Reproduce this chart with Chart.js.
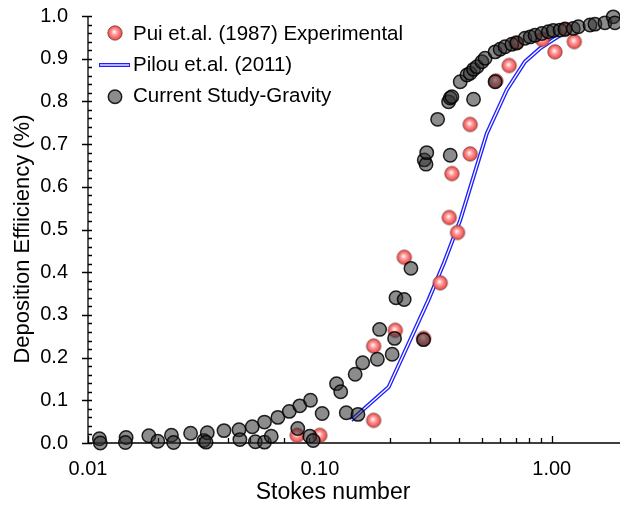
<!DOCTYPE html>
<html>
<head>
<meta charset="utf-8">
<script src="https://cdn.jsdelivr.net/npm/chart.js@4.4.0/dist/chart.umd.min.js"></script>
<style>
  html, body { margin: 0; padding: 0; background: #fff; }
</style>
</head>
<body>
<canvas id="chart" width="620" height="508"></canvas>
<script>
// Pui et.al. (1987) experimental points
const puiX = [0.0798, 0.0999, 0.1706, 0.1706, 0.2115, 0.2312, 0.2801, 0.3305, 0.3613, 0.3924,
              0.3711, 0.4449, 0.4449, 0.5741, 0.6551, 0.7020, 0.9111, 1.033, 1.141, 1.251];
const puiY = [0.018, 0.018, 0.053, 0.227, 0.264, 0.435, 0.245, 0.375, 0.528, 0.493,
              0.631, 0.677, 0.746, 0.848, 0.884, 0.937, 0.945, 0.916, 0.969, 0.940];

// Pilou et.al. (2011) curve
const pilouX = [0.1364, 0.198, 0.2934, 0.3439, 0.403, 0.525, 0.640, 0.767, 0.890, 1.086];
const pilouY = [0.053, 0.131, 0.334, 0.4235, 0.522, 0.725, 0.827, 0.893, 0.924, 0.955];

// Current study - gravity
const gravX = [0.0112, 0.0113, 0.0146, 0.0145, 0.0183, 0.0200, 0.0229, 0.0234, 0.0277, 0.0316,
               0.0327, 0.0323, 0.0386, 0.0448, 0.0452, 0.0511, 0.0527, 0.0577, 0.0577, 0.0617,
               0.0659, 0.0738, 0.0803, 0.0819, 0.0905, 0.0911, 0.0936, 0.1023, 0.118, 0.123,
               0.130, 0.146, 0.142, 0.153, 0.177, 0.181, 0.210, 0.205, 0.213, 0.231,
               0.247, 0.280, 0.282, 0.287, 0.289, 0.365, 0.322, 0.359, 0.365, 0.371,
               0.460, 0.403, 0.431, 0.445, 0.460, 0.476, 0.500, 0.516, 0.570, 0.570,
               0.599, 0.629, 0.673, 0.707, 0.767, 0.807, 0.847, 0.906, 0.967, 1.016,
               1.086, 1.141, 1.239, 1.302, 1.462, 1.536, 1.696, 1.842, 1.873];
const gravY = [0.010, 0.000, 0.013, 0.001, 0.017, 0.004, 0.018, 0.001, 0.023, 0.006,
               0.024, 0.002, 0.029, 0.031, 0.008, 0.038, 0.003, 0.049, 0.002, 0.016,
               0.060, 0.074, 0.034, 0.087, 0.016, 0.100, 0.006, 0.069, 0.139, 0.120,
               0.071, 0.067, 0.161, 0.188, 0.196, 0.266, 0.245, 0.208, 0.340, 0.336,
               0.409, 0.242, 0.663, 0.653, 0.680, 0.674, 0.758, 0.799, 0.808, 0.811,
               0.805, 0.846, 0.862, 0.866, 0.875, 0.881, 0.893, 0.901, 0.846, 0.916,
               0.922, 0.928, 0.934, 0.937, 0.948, 0.951, 0.955, 0.959, 0.963, 0.966,
               0.967, 0.969, 0.971, 0.975, 0.979, 0.981, 0.984, 0.998, 0.984];

const xTicks = [0.01, 0.1, 1];
const yMin = 0, yMax = 1, yStep = 0.1;

const FONT = 'Arial, "Liberation Sans", sans-serif';
const GRAV_FILL = 'rgba(45,45,45,0.55)';
const GRAV_EDGE = 'rgba(0,0,0,0.85)';

const zip = (xs, ys) => xs.map((x, i) => ({ x, y: ys[i] }));

// shiny red marker, used as a point style image
function shinyDot(r) {
  const c = document.createElement('canvas');
  const s = Math.ceil(r * 2 + 2);
  c.width = c.height = s;
  const g = c.getContext('2d');
  const m = s / 2;
  const grad = g.createRadialGradient(m - 0.8, m - 1.2, 0.4, m, m, r);
  grad.addColorStop(0, '#fff4f4');
  grad.addColorStop(0.35, '#ff9a9a');
  grad.addColorStop(1, '#e83636');
  g.beginPath();
  g.arc(m, m, r - 0.6, 0, Math.PI * 2);
  g.fillStyle = grad;
  g.fill();
  g.lineWidth = 1;
  g.strokeStyle = 'rgba(110,60,60,0.75)';
  g.stroke();
  return c;
}
const redDot = shinyDot(7.8);

// axes, inward ticks and minor ticks
const axesPlugin = {
  id: 'axes',
  beforeDatasetsDraw(chart) {
    const { ctx, chartArea: a, scales: { x, y } } = chart;
    ctx.save();
    ctx.strokeStyle = '#000';
    ctx.lineWidth = 1.3;
    ctx.beginPath();
    ctx.moveTo(a.left, a.top); ctx.lineTo(a.left, a.bottom);
    ctx.moveTo(a.left, a.bottom); ctx.lineTo(a.right, a.bottom);
    for (let i = 0; i <= 50; i++) {
      const py = Math.round(y.getPixelForValue(i * 0.02)) + 0.5;
      const major = i % 5 === 0;
      ctx.moveTo(major ? a.left - 6 : a.left, py);
      ctx.lineTo(a.left + 4, py);
    }
    for (let d = 0.01; d < 2; d *= 10) {
      for (let k = 1; k <= 9; k++) {
        const v = d * k;
        if (v > x.max) break;
        const px = Math.round(x.getPixelForValue(v)) + 0.5;
        ctx.moveTo(px, a.bottom);
        ctx.lineTo(px, a.bottom - (k === 1 ? 7 : 5));
      }
    }
    ctx.stroke();
    ctx.restore();
  },
  afterDraw(chart) {
    const { ctx, data } = chart;
    ctx.save();
    ctx.fillStyle = '#000';
    // axis titles
    ctx.font = '23px ' + FONT;
    ctx.textAlign = 'center';
    ctx.textBaseline = 'alphabetic';
    ctx.fillText('Stokes number', 333, 499);
    ctx.font = '22px ' + FONT;
    ctx.translate(29, 239);
    ctx.rotate(-Math.PI / 2);
    ctx.fillText('Deposition Effiiciency (%)', 0, 0);
    ctx.restore();

    // legend
    ctx.save();
    ctx.font = '20.5px ' + FONT;
    ctx.textAlign = 'left';
    ctx.fillStyle = '#000';
    ctx.drawImage(redDot, 115 - redDot.width / 2, 33 - redDot.height / 2);
    ctx.fillText(data.datasets[1].label, 133, 39.5);
    ctx.strokeStyle = '#1f1fff'; ctx.lineWidth = 4;
    ctx.beginPath(); ctx.moveTo(99, 65); ctx.lineTo(130, 65); ctx.stroke();
    ctx.strokeStyle = '#fff'; ctx.lineWidth = 1.3;
    ctx.beginPath(); ctx.moveTo(100, 65); ctx.lineTo(129, 65); ctx.stroke();
    ctx.fillText(data.datasets[3].label, 133, 70.5);
    ctx.beginPath(); ctx.arc(115, 96.7, 6.7, 0, Math.PI * 2);
    ctx.fillStyle = GRAV_FILL; ctx.fill();
    ctx.lineWidth = 1.5; ctx.strokeStyle = GRAV_EDGE; ctx.stroke();
    ctx.fillStyle = '#000';
    ctx.fillText(data.datasets[0].label, 133, 102.3);
    ctx.restore();
  }
};

new Chart(document.getElementById('chart'), {
  type: 'scatter',
  data: {
    datasets: [
      {
        label: 'Current Study-Gravity',
        data: zip(gravX, gravY),
        pointRadius: 6.7,
        backgroundColor: GRAV_FILL,
        borderColor: GRAV_EDGE,
        borderWidth: 1.5,
        clip: false,
        order: 0
      },
      {
        label: 'Pui et.al. (1987) Experimental',
        data: zip(puiX, puiY),
        pointStyle: redDot,
        pointRadius: 7.8,
        clip: false,
        order: 1
      },
      {
        label: 'Pilou inner',
        type: 'line',
        data: zip(pilouX, pilouY),
        borderColor: '#ffffff',
        borderWidth: 1.3,
        pointRadius: 0,
        tension: 0,
        order: 2
      },
      {
        label: 'Pilou et.al. (2011)',
        type: 'line',
        data: zip(pilouX, pilouY),
        borderColor: '#1f1fff',
        borderWidth: 4,
        pointRadius: 0,
        tension: 0,
        order: 3
      }
    ]
  },
  options: {
    responsive: false,
    animation: false,
    devicePixelRatio: 1,
    // no auto padding for the point radius: the plot runs to the right edge
    layout: { autoPadding: false, padding: { top: 16, right: 0, left: 0, bottom: 0 } },
    plugins: { legend: { display: false }, tooltip: { enabled: false } },
    scales: {
      x: {
        type: 'logarithmic',
        min: 0.01,
        max: 1.97,
        afterBuildTicks: s => { s.ticks = xTicks.map(v => ({ value: v })); },
        afterFit: s => { s.height = 65; s.paddingLeft = 0; s.paddingRight = 0; },
        grid: { display: false, drawTicks: false },
        border: { display: false },
        ticks: {
          autoSkip: false, maxRotation: 0, padding: 14, color: '#000',
          font: { family: FONT, size: 20 },
          callback: v => Number(v).toFixed(2)
        }
      },
      y: {
        min: yMin,
        max: yMax,
        afterFit: s => { s.width = 88; s.paddingTop = 0; s.paddingBottom = 0; },
        grid: { display: false, drawTicks: false },
        border: { display: false },
        ticks: {
          stepSize: yStep, padding: 20, color: '#000',
          font: { family: FONT, size: 20 },
          callback: v => Number(v).toFixed(1)
        }
      }
    }
  },
  plugins: [axesPlugin]
});
</script>
</body>
</html>
